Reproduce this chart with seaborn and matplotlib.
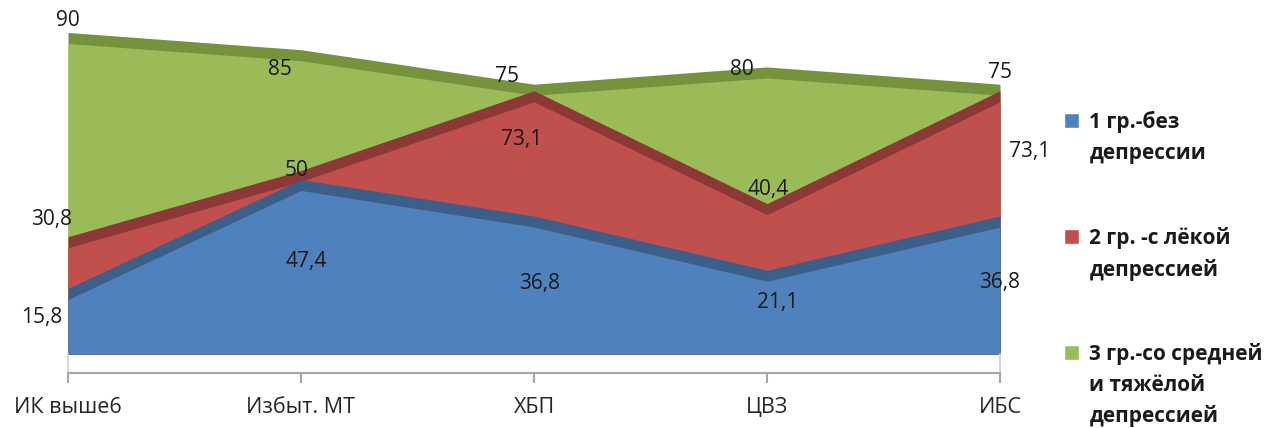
import matplotlib
matplotlib.use("Agg")
import matplotlib.pyplot as plt
from matplotlib.patches import Patch
import seaborn as sns
import numpy as np

categories = ["ИК выше6", "Избыт. МТ", "ХБП", "ЦВЗ", "ИБС"]
group1 = [15.8, 47.4, 36.8, 21.1, 36.8]
group2 = [30.8, 50, 73.1, 40.4, 73.1]
group3 = [90, 85, 75, 80, 75]
series_names = [["1 гр.-без", "депрессии"],
                ["2 гр. -с лёкой", "депрессией"],
                ["3 гр.-со средней", "и тяжёлой", "депрессией"]]
value_text = {
    "g1": ["15,8", "47,4", "36,8", "21,1", "36,8"],
    "g2": ["30,8", "50", "73,1", "40,4", "73,1"],
    "g3": ["90", "85", "75", "80", "75"],
}

sns.set_theme(style="white")
plt.rcParams["font.family"] = ["Open Sans", "DejaVu Sans"]

face = {"g1": "#4F81BD", "g2": "#C0504D", "g3": "#9BBB59"}
edge = {"g1": "#3C5F8A", "g2": "#8C3836", "g3": "#76923C"}

fig = plt.figure(figsize=(12.82, 4.28), dpi=100)
ax = fig.add_axes([68 / 1282, 55 / 428, 932 / 1282, 373 / 428])

x = np.arange(len(categories))
depth = 3.2  # thickness of the darker top band (3-D look)

series = [("g3", group3), ("g2", group2), ("g1", group1)]
for key, vals in series:
    v = np.array(vals, dtype=float)
    ax.fill_between(x, 0, v + depth, color=edge[key], lw=0, zorder=1)
    ax.fill_between(x, 0, v, color=face[key], lw=0, zorder=1)

# label offsets in pixels (dx, dy)
offsets = {
    "g3": [(0, 23), (-21, -9), (-27, 19), (-25, 8), (0, 23)],
    "g2": [(-16, 28), (-4, 11), (-12, -38), (1, 25), (30, -50)],
    "g1": [(-26, -18), (5, -71), (6, -56), (11, -21), (0, -55)],
}
for key, vals in series:
    for i, v in enumerate(vals):
        dx, dy = offsets[key][i]
        ax.annotate(value_text[key][i], (x[i], v), xytext=(dx, dy),
                    textcoords="offset pixels", ha="center", va="center",
                    fontsize=15, color="#1a1a1a", zorder=5)

ax.set_xlim(0, len(categories) - 1)
ax.set_ylim(-5.5, 102.6)
ax.set_yticks([])
ax.set_xticks(x)
ax.set_xticklabels(categories, fontsize=15.5, color="#262626")
ax.tick_params(axis="x", length=7, width=1.5, color="#A6A6A6", pad=10,
               direction="out", bottom=True)
ax.spines["top"].set_visible(False)
for s in ["left", "right"]:
    ax.spines[s].set_bounds(-5.5, 0)
    ax.spines[s].set_color("#D0D0D0")
    ax.spines[s].set_linewidth(1.2)
ax.spines["bottom"].set_color("#A6A6A6")
ax.spines["bottom"].set_linewidth(1.5)
ax.patch.set_alpha(0)

# one legend block per series; the swatch sits on the first text line
blank = Patch(facecolor="none", edgecolor="none")
tops = [111, 227, 343]
for key, lines, top in zip(["g1", "g2", "g3"], series_names, tops):
    hs = [Patch(facecolor=face[key])] + [blank] * (len(lines) - 1)
    leg = fig.legend(hs, lines, loc="upper left",
                     bbox_to_anchor=(1064 / 1282, 1 - top / 428),
                     frameon=False, handlelength=0.72, handleheight=0.72,
                     handletextpad=0.5, labelspacing=0.46,
                     borderpad=0, borderaxespad=0,
                     prop={"size": 15, "weight": "bold"})
    for t in leg.get_texts():
        t.set_color("#1a1a1a")

fig.savefig("out.png", dpi=100)
